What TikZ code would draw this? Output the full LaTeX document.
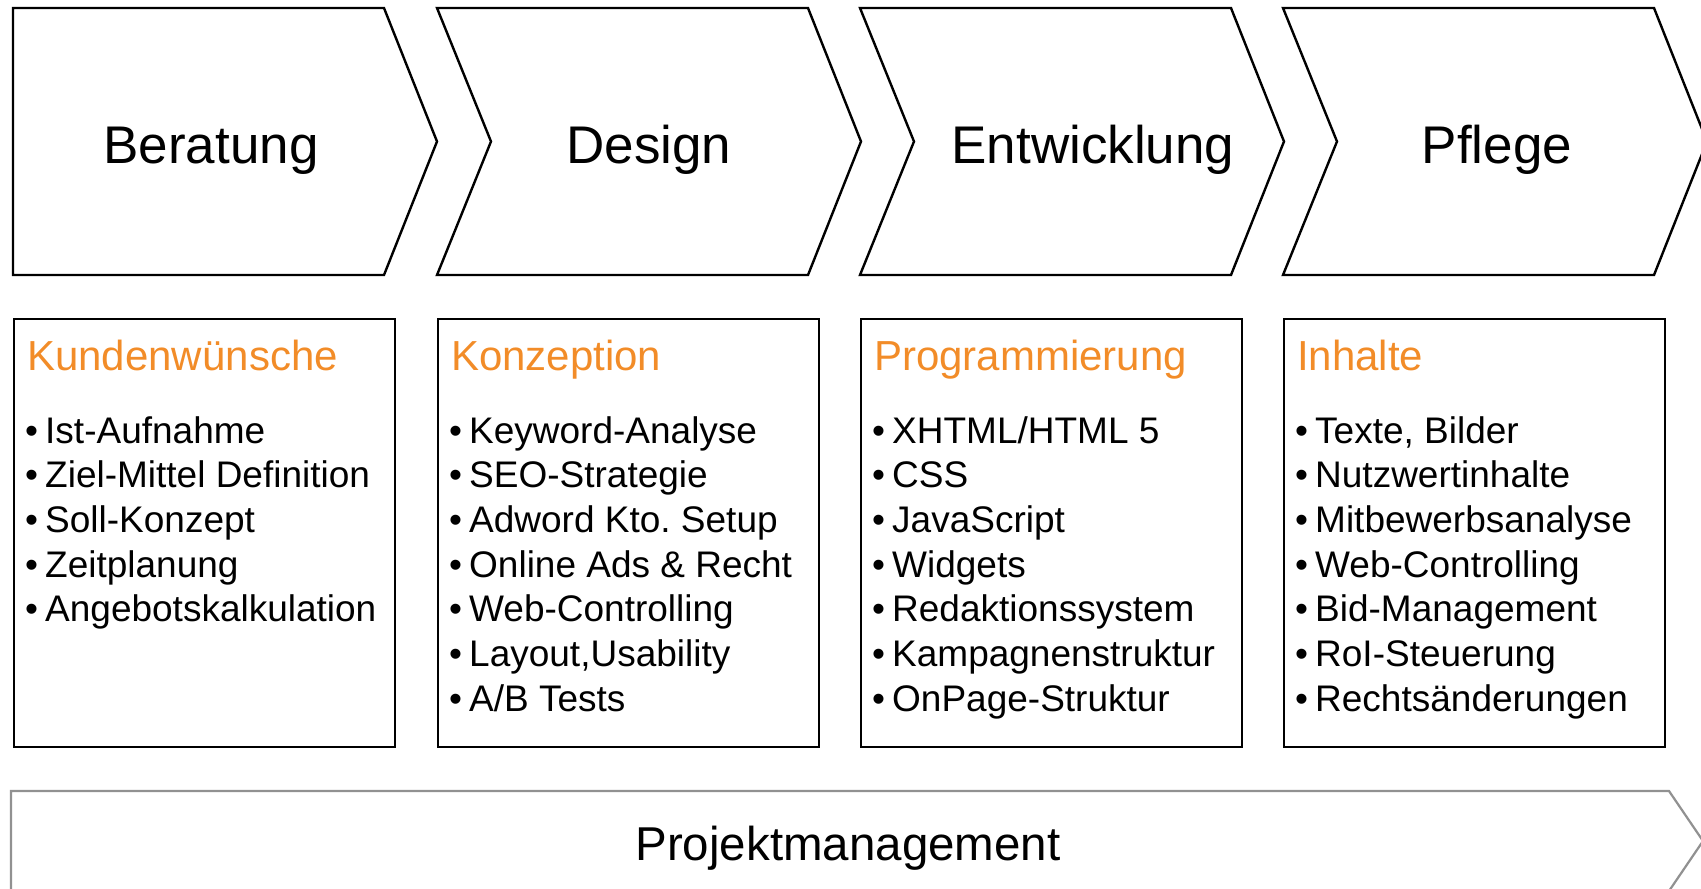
\documentclass[tikz,border=0pt]{standalone}
\usepackage{fontspec}
\setmainfont{Liberation Sans}
\frenchspacing
\definecolor{titleorange}{RGB}{242,140,40}
\definecolor{pmgray}{RGB}{145,145,145}
\tikzset{
  phase/.style={draw=black, line width=2.4pt, line join=miter, fill=white},
  phasetext/.style={font=\fontsize{53}{60}\selectfont, anchor=base, inner sep=0pt},
  itembox/.style={draw=black, line width=2.4pt, anchor=north west, inner sep=0pt,
    minimum width=381pt, minimum height=428pt},
  boxtitle/.style={font=\fontsize{42}{48}\selectfont, text=titleorange, anchor=base west, inner sep=0pt},
  itemtext/.style={font=\fontsize{37}{44}\selectfont, anchor=base west, inner sep=0pt},
  itembullet/.style={font=\fontsize{37}{44}\selectfont, anchor=base, inner sep=0pt},
  pmarrow/.style={draw=pmgray, line width=2.2pt, line join=miter},
  pmtext/.style={font=\fontsize{47.5}{54}\selectfont, anchor=base, inner sep=0pt}
}
\begin{document}
\begin{tikzpicture}[x=1pt,y=-1pt]
\useasboundingbox (0,0) rectangle (1701,889);

% process chevrons
\draw[phase] (13,8) -- (384,8) -- (437,141.5) -- (384,275) -- (13,275) -- cycle;
\foreach \L in {437,860,1283}
  \draw[phase] (\L,8) -- ++(371,0) -- ++(53,133.5) -- ++(-53,133.5)
    -- ++(-371,0) -- ++(54,-133.5) -- cycle;

\node[phasetext] (beratung) at (211,163) {Beratung};
\node[phasetext] (design) at (649,163) {Design};
\node[phasetext] (entwicklung) at (1093,163) {Entwicklung};
\node[phasetext] (pflege) at (1497,163) {Pflege};

% task boxes
\foreach \L/\nm/\ttl/\lst in {
  13/kunden/{Kundenwünsche}/{Ist-Aufnahme,Ziel-Mittel Definition,Soll-Konzept,Zeitplanung,Angebotskalkulation},
  437/konz/{Konzeption}/{Keyword-Analyse,SEO-Strategie,Adword Kto. Setup,Online Ads \& Recht,Web-Controlling,{Layout,Usability},A/B Tests},
  860/prog/{Programmierung}/{XHTML/HTML 5,CSS,JavaScript,Widgets,Redaktionssystem,Kampagnenstruktur,OnPage-Struktur},
  1283/inh/{Inhalte}/{{Texte, Bilder},Nutzwertinhalte,Mitbewerbsanalyse,Web-Controlling,Bid-Management,RoI-Steuerung,Rechtsänderungen}%
}{
  \node[itembox] (\nm) at (\L,318) {};
  \node[boxtitle] (\nm-title) at (\L+14,370) {\ttl};
  \foreach \t [count=\k from 0] in \lst {
    \node[itembullet] (\nm-b\k) at (\L+18.5,443+44.7*\k) {•};
    \node[itemtext] (\nm-i\k) at (\L+32,443+44.7*\k) {\t};
  }
}

% project management band
\draw[pmarrow] (11,791) -- (1669,791) -- (1703,841) -- (1669,891) -- (11,891) -- cycle;
\node[pmtext] (pm) at (848,860) {Projektmanagement};
\end{tikzpicture}
\end{document}
